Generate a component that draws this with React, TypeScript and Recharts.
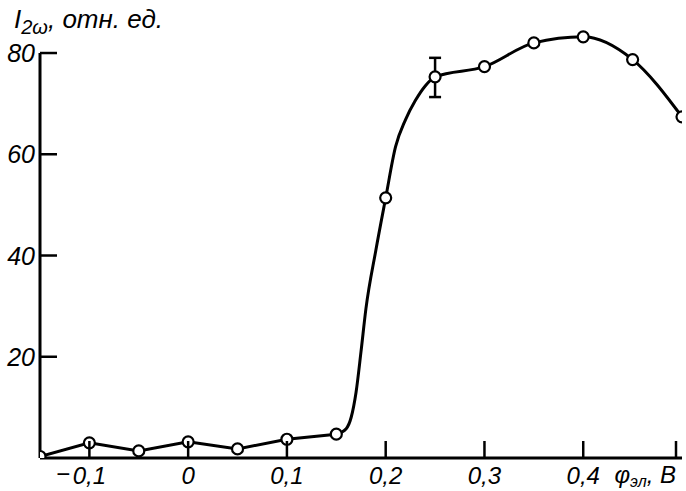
import { ComposedChart, Line, Scatter, ErrorBar, XAxis, YAxis, ReferenceLine } from 'recharts';

// measured points (circles)
const pointX = [-0.15, -0.1, -0.05, 0, 0.05, 0.1, 0.15, 0.2, 0.25, 0.3, 0.35, 0.4, 0.45, 0.5];
const pointY = [0.3, 3.0, 1.4, 3.2, 1.8, 3.7, 4.7, 51.4, 75.3, 77.3, 82.0, 83.2, 78.7, 67.4];

// extra points in the steep part
const curveX = [0.16, 0.165, 0.17, 0.175, 0.18, 0.19, 0.21, 0.22, 0.23, 0.24];
const curveY = [5.8, 8.0, 13.0, 21.0, 29.5, 41.0, 61.5, 66.8, 70.6, 73.5];

// error bar at 0.25
const errX = [0.25];
const errY = [75.3];
const errLow = [4.0];
const errHigh = [3.75];

const xTicks = [-0.1, 0, 0.1, 0.2, 0.3, 0.4, 0.5];
const yTicks = [20, 40, 60, 80];

const FONT = "'Liberation Sans', Arial, sans-serif";

const points = pointX.map((x, i) => ({ x, y: pointY[i] }));
const extra = curveX.map((x, i) => ({ x, y: curveY[i] }));
// flat part drawn as straight segments, the rise as a smooth curve
const flat = points.filter((p) => p.x <= 0.15);
const rise = [...points.filter((p) => p.x >= 0.15), ...extra].sort((a, b) => a.x - b.x);
const errData = errX.map((x, i) => ({ x, y: errY[i], err: [errLow[i], errHigh[i]] }));

const fmt = (v: number) => Math.abs(v).toFixed(1).replace('.', ',').replace(/^0,0$/, '0');

function XTick({ x, y, payload }: any) {
    const v = payload.value as number;
    return (
        <g>
            <line x1={x} y1={y} x2={x} y2={y - 17} stroke="#000" strokeWidth={2.5} />
            {v === 0.5 ? (
                <text x={x} y={y + 25} textAnchor="end" fontFamily={FONT} fontStyle="italic" fontSize={24} fill="#000">
                    φ
                    <tspan fontSize={16} dy={4}>эл</tspan>
                    <tspan dy={-4}>, В</tspan>
                </text>
            ) : (
                <>
                    <text x={x} y={y + 26} textAnchor="middle" fontFamily={FONT} fontStyle="italic" fontSize={24} fill="#000">
                        {fmt(v)}
                    </text>
                    {v < 0 && (
                        <text x={x - 19} y={y + 24} textAnchor="end" fontFamily={FONT} fontSize={24} fill="#000">
                            −
                        </text>
                    )}
                </>
            )}
        </g>
    );
}

function YTick({ x, y, payload }: any) {
    return (
        <g>
            <line x1={x} y1={y} x2={x + 17} y2={y} stroke="#000" strokeWidth={2.5} />
            <text x={x - 5} y={y + 9} textAnchor="end" fontFamily={FONT} fontStyle="italic" fontSize={25} fill="#000">
                {payload.value}
            </text>
        </g>
    );
}

const Circle = (p: any) => (
    <circle cx={p.cx} cy={p.cy} r={5.5} fill="#fff" stroke="#000" strokeWidth={2.2} />
);

export default function App() {
    return (
        <div style={{ position: 'absolute', left: 0, top: 0, width: 686, height: 491, background: '#fff' }}>
            <div
                style={{
                    position: 'absolute', left: 14, top: 4, fontFamily: FONT, fontStyle: 'italic',
                    fontSize: 26, color: '#000', whiteSpace: 'nowrap',
                }}
            >
                I<sub style={{ fontSize: 20 }}>2ω</sub>, отн. ед.
            </div>
            <ComposedChart width={686} height={491} margin={{ top: 2.4, right: 4, bottom: 0, left: 0 }}>
                <XAxis
                    type="number"
                    dataKey="x"
                    domain={[-0.15, 0.5]}
                    ticks={xTicks}
                    height={33}
                    tickSize={0}
                    tickMargin={0}
                    tick={<XTick />}
                    axisLine={{ stroke: '#000', strokeWidth: 3 }}
                    allowDataOverflow
                />
                <YAxis
                    type="number"
                    dataKey="y"
                    domain={[0, 90]}
                    ticks={yTicks}
                    width={40}
                    tickSize={0}
                    tickMargin={0}
                    tick={<YTick />}
                    axisLine={false}
                    allowDataOverflow
                />
                <ReferenceLine
                    segment={[{ x: -0.15, y: 0 }, { x: -0.15, y: 80 }]}
                    stroke="#000"
                    strokeWidth={3}
                />
                <Line data={flat} type="linear" dataKey="y" stroke="#000" strokeWidth={3} dot={false} isAnimationActive={false} />
                <Line data={rise} type="monotone" dataKey="y" stroke="#000" strokeWidth={3} dot={false} isAnimationActive={false} />
                <Scatter data={errData} dataKey="y" shape={() => <g />} isAnimationActive={false}>
                    <ErrorBar dataKey="err" direction="y" width={6} stroke="#000" strokeWidth={2.5} />
                </Scatter>
                <Scatter data={points} dataKey="y" shape={Circle} isAnimationActive={false} />
            </ComposedChart>
        </div>
    );
}
